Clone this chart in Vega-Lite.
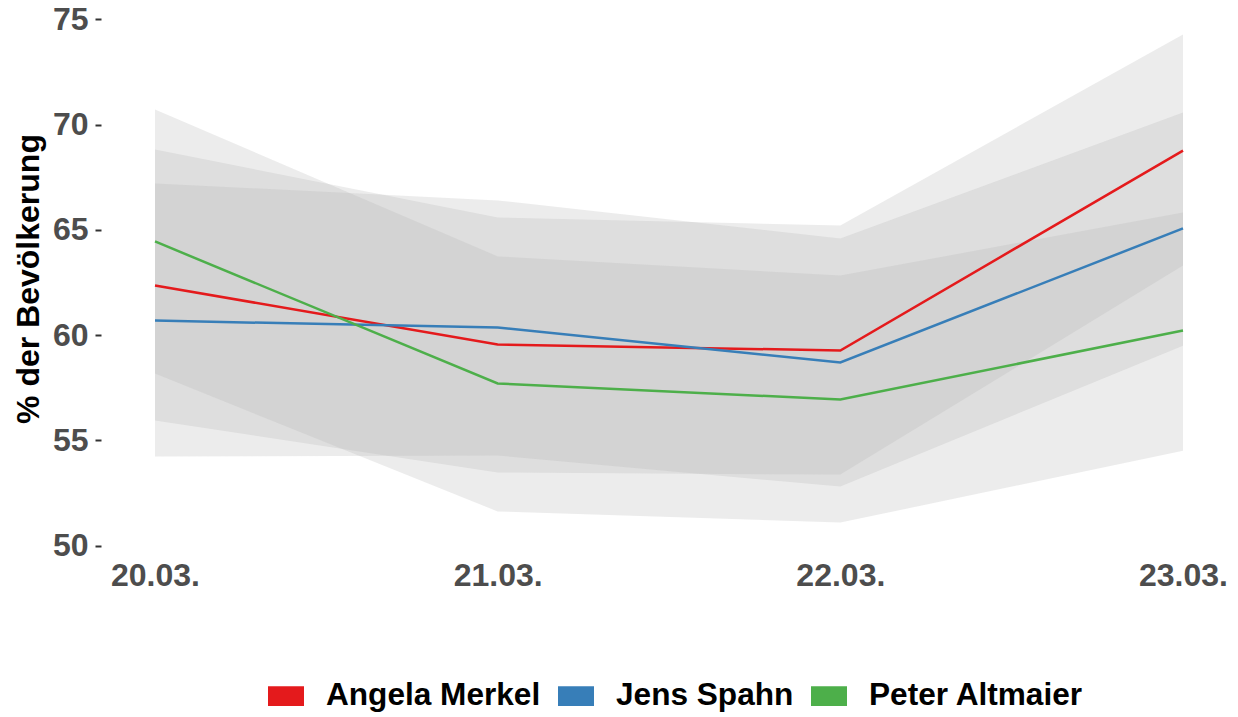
{
  "$schema": "https://vega.github.io/schema/vega-lite/v6.json",
  "width": 1136,
  "height": 537,
  "autosize": {"type": "none"},
  "padding": {"left": 101, "top": 10, "right": 1, "bottom": 170},
  "background": "white",
  "config": {"view": {"stroke": null}, "font": "Liberation Sans"},
  "data": {"values": [
    {"date": "20.03.", "name": "Angela Merkel", "value": 62.36, "lo": 55.94, "hi": 68.82},
    {"date": "21.03.", "name": "Angela Merkel", "value": 59.55, "lo": 53.47, "hi": 65.59},
    {"date": "22.03.", "name": "Angela Merkel", "value": 59.27, "lo": 53.37, "hi": 65.21},
    {"date": "23.03.", "name": "Angela Merkel", "value": 68.77, "lo": 63.31, "hi": 74.29},
    {"date": "20.03.", "name": "Jens Spahn", "value": 60.69, "lo": 54.23, "hi": 67.21},
    {"date": "21.03.", "name": "Jens Spahn", "value": 60.36, "lo": 54.28, "hi": 66.40},
    {"date": "22.03.", "name": "Jens Spahn", "value": 58.70, "lo": 52.80, "hi": 64.59},
    {"date": "23.03.", "name": "Jens Spahn", "value": 65.07, "lo": 59.50, "hi": 70.58},
    {"date": "20.03.", "name": "Peter Altmaier", "value": 64.45, "lo": 58.17, "hi": 70.72},
    {"date": "21.03.", "name": "Peter Altmaier", "value": 57.70, "lo": 51.62, "hi": 63.74},
    {"date": "22.03.", "name": "Peter Altmaier", "value": 56.94, "lo": 51.09, "hi": 62.83},
    {"date": "23.03.", "name": "Peter Altmaier", "value": 60.22, "lo": 54.51, "hi": 65.83}
  ]},
  "encoding": {
    "x": {
      "field": "date", "type": "ordinal", "sort": null,
      "scale": {"type": "point", "padding": 0.1576},
      "axis": {"title": null, "domain": false, "grid": false, "ticks": false, "labelAngle": 0,
               "labelFont": "Liberation Sans", "labelFontWeight": "bold", "labelFontSize": 32,
               "labelColor": "#4d4d4d", "labelPadding": 13, "labelLimit": 0}
    }
  },
  "layer": [
    {
      "mark": {"type": "area", "fill": "#b3b3b3", "opacity": 0.25},
      "encoding": {
        "y": {"field": "lo", "type": "quantitative",
              "scale": {"domain": [49.93, 75.45], "nice": false, "zero": false},
              "axis": {"title": "% der Bevölkerung", "values": [50, 55, 60, 65, 70, 75],
                       "domain": false, "grid": false, "ticks": true, "tickSize": 6, "tickWidth": 2,
                       "tickColor": "#333333", "labelFont": "Liberation Sans", "labelFontWeight": "bold",
                       "labelFontSize": 32, "labelColor": "#4d4d4d", "labelPadding": 7, "labelLimit": 0,
                       "titleFont": "Liberation Sans", "titleFontWeight": "bold", "titleFontSize": 32,
                       "titleColor": "#000000", "titlePadding": 7, "titleLimit": 0}},
        "y2": {"field": "hi"},
        "detail": {"field": "name"}
      }
    },
    {
      "mark": {"type": "line", "strokeWidth": 2.5},
      "encoding": {
        "y": {"field": "value", "type": "quantitative"},
        "color": {
          "field": "name", "type": "nominal",
          "scale": {"domain": ["Angela Merkel", "Jens Spahn", "Peter Altmaier"],
                    "range": ["#e41a1c", "#377eb8", "#4daf4a"]},
          "legend": {
            "title": null, "orient": "none", "direction": "horizontal",
            "legendX": 167, "legendY": 668,
            "symbolType": "M-1,-0.55L1,-0.55L1,0.55L-1,0.55Z",
            "symbolSize": 1296, "symbolStrokeWidth": 0,
            "labelFont": "Liberation Sans", "labelFontWeight": "bold", "labelFontSize": 31.6,
            "labelColor": "#000000", "labelOffset": 22, "columnPadding": 17, "labelLimit": 0,
            "encode": {"symbols": {"update": {"fill": {"scale": "color", "field": "value"},
                                               "stroke": {"value": "transparent"},
                                               "opacity": {"value": 1}}}}
          }
        }
      }
    }
  ]
}
